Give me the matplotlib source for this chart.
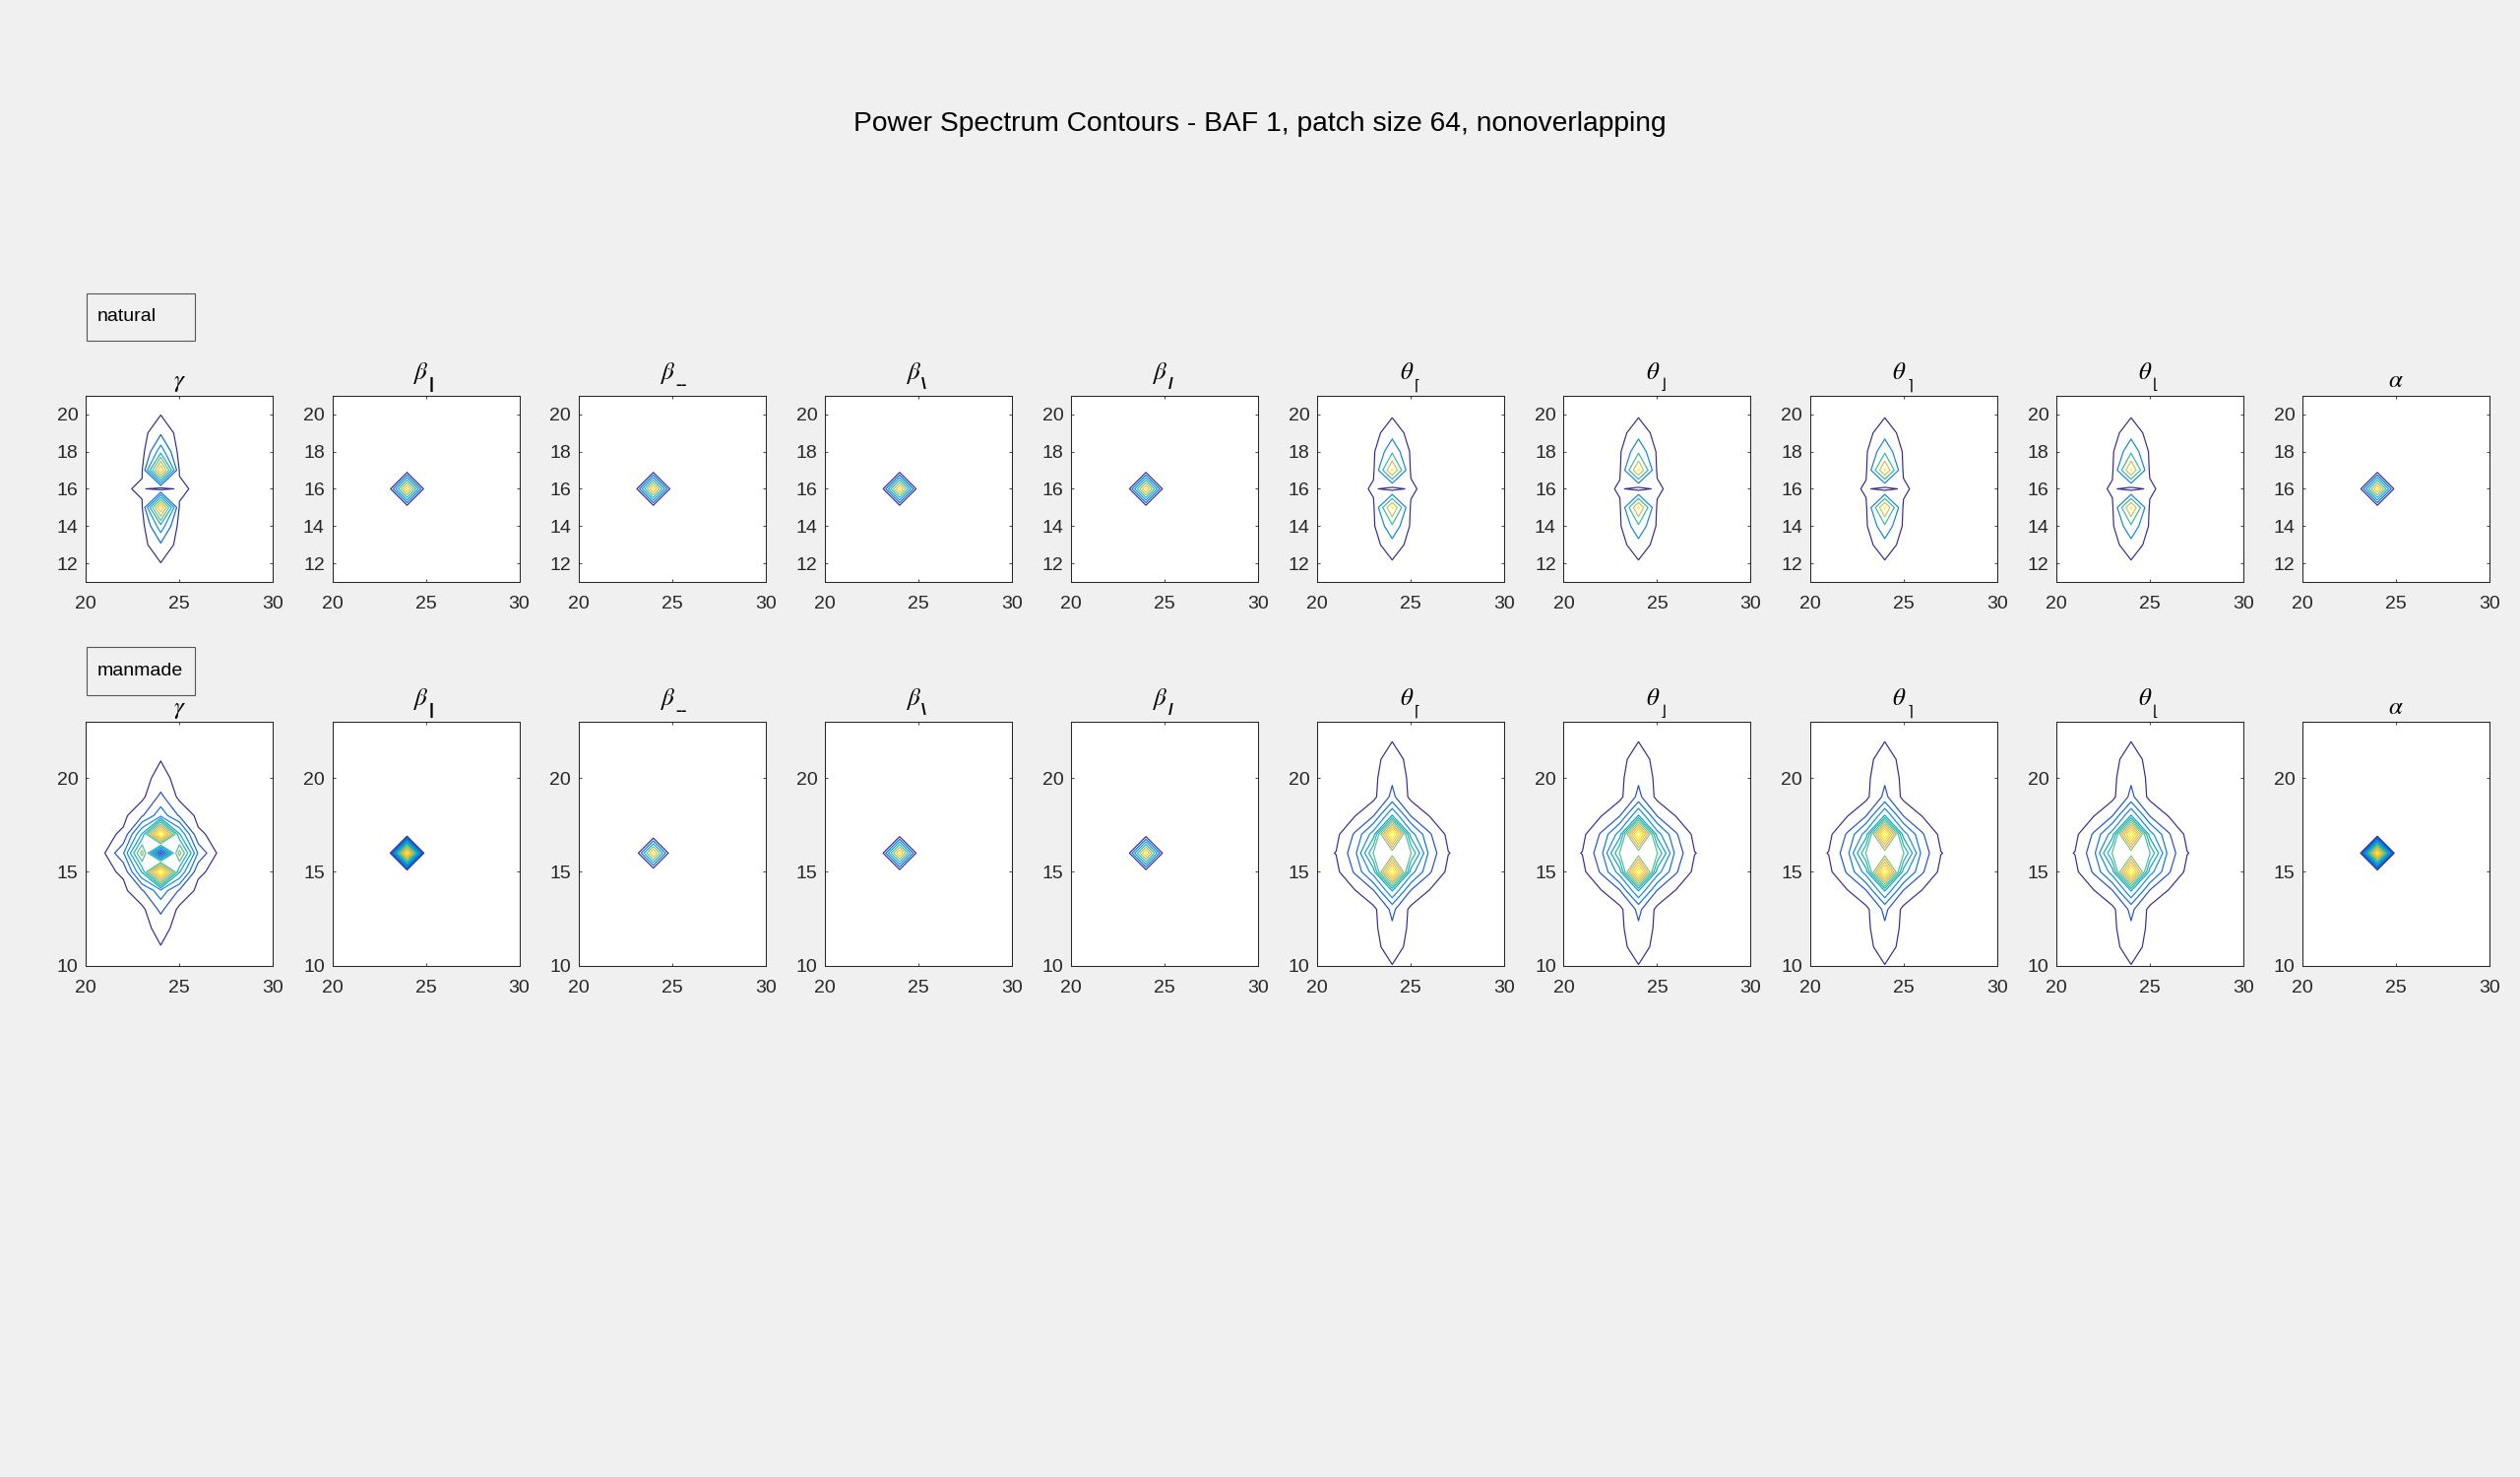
import numpy as np
import matplotlib
matplotlib.use("Agg")
import matplotlib.pyplot as plt
from matplotlib.colors import LinearSegmentedColormap
from matplotlib.patches import Rectangle

plt.rcParams["font.family"] = ["Liberation Sans", "DejaVu Sans"]
plt.rcParams["mathtext.fontset"] = "stix"

# ---------------------------------------------------------------- data
suptitle = "Power Spectrum Contours - BAF 1, patch size 64, nonoverlapping"
row_labels = ["natural", "manmade"]
title_greek = [r"$\gamma$", r"$\beta$", r"$\beta$", r"$\beta$", r"$\beta$",
               r"$\theta$", r"$\theta$", r"$\theta$", r"$\theta$", r"$\alpha$"]
title_sub = ["", "|", "--", "\\", "/", "\u2308", "\u230b", "\u2309", "\u230a", ""]

# single-peak spectra (beta / alpha panels)
x_peak = [23, 24, 25]
y_peak = [15, 16, 17]
peak_power = [
    [0.0, 0.0, 0.0],
    [0.0, 1.0, 0.0],
    [0.0, 0.0, 0.0],
]

# natural row, rows are y = 11 .. 21, columns x = 21 .. 27
x_nat = [21, 22, 23, 24, 25, 26, 27]
y_nat = [11, 12, 13, 14, 15, 16, 17, 18, 19, 20, 21]
nat_gamma_power = [
    [0.0, 0.0, 0.0, 0.0, 0.0, 0.0, 0.0],
    [0.0, 0.0, 0.0, 0.045, 0.0, 0.0, 0.0],
    [0.0, 0.0, 0.0, 0.16, 0.0, 0.0, 0.0],
    [0.0, 0.0, 0.0, 0.40, 0.0, 0.0, 0.0],
    [0.0, 0.0, 0.04, 1.0, 0.04, 0.0, 0.0],
    [0.0, 0.04, 0.0625, 0.0, 0.071, 0.029, 0.0],
    [0.0, 0.0, 0.04, 1.0, 0.04, 0.0, 0.0],
    [0.0, 0.0, 0.0, 0.40, 0.0, 0.0, 0.0],
    [0.0, 0.0, 0.0, 0.16, 0.0, 0.0, 0.0],
    [0.0, 0.0, 0.0, 0.045, 0.0, 0.0, 0.0],
    [0.0, 0.0, 0.0, 0.0, 0.0, 0.0, 0.0],
]
nat_theta_power = [
    [0.0, 0.0, 0.0, 0.0, 0.0, 0.0, 0.0],
    [0.0, 0.0, 0.0, 0.049, 0.0, 0.0, 0.0],
    [0.0, 0.0, 0.0, 0.213, 0.0, 0.0, 0.0],
    [0.0, 0.0, 0.05, 0.476, 0.05, 0.0, 0.0],
    [0.0, 0.0, 0.05, 1.0, 0.05, 0.0, 0.0],
    [0.0, 0.011, 0.107, 0.0, 0.118, 0.0, 0.0],
    [0.0, 0.0, 0.05, 1.0, 0.05, 0.0, 0.0],
    [0.0, 0.0, 0.05, 0.476, 0.05, 0.0, 0.0],
    [0.0, 0.0, 0.0, 0.213, 0.0, 0.0, 0.0],
    [0.0, 0.0, 0.0, 0.049, 0.0, 0.0, 0.0],
    [0.0, 0.0, 0.0, 0.0, 0.0, 0.0, 0.0],
]

# manmade row, rows are y = 10 .. 22, columns x = 20 .. 28
x_man = [20, 21, 22, 23, 24, 25, 26, 27, 28]
y_man = [10, 11, 12, 13, 14, 15, 16, 17, 18, 19, 20, 21, 22]
man_gamma_power = [
    [0.0, 0.0, 0.0, 0.0, 0.0, 0.0, 0.0, 0.0, 0.0],
    [0.0, 0.0, 0.0, 0.0, 0.018, 0.0, 0.0, 0.0, 0.0],
    [0.0, 0.0, 0.0, 0.0, 0.04, 0.0, 0.0, 0.0, 0.0],
    [0.0, 0.0, 0.0, 0.0, 0.12, 0.0, 0.0, 0.0, 0.0],
    [0.0, 0.0, 0.0, 0.09, 0.233, 0.09, 0.0, 0.0, 0.0],
    [0.0, 0.0, 0.033, 0.35, 1.0, 0.35, 0.033, 0.0, 0.0],
    [0.0, 0.018, 0.17, 0.62, 0.0, 0.62, 0.17, 0.018, 0.0],
    [0.0, 0.0, 0.033, 0.35, 1.0, 0.35, 0.033, 0.0, 0.0],
    [0.0, 0.0, 0.0, 0.09, 0.233, 0.09, 0.0, 0.0, 0.0],
    [0.0, 0.0, 0.0, 0.0, 0.12, 0.0, 0.0, 0.0, 0.0],
    [0.0, 0.0, 0.0, 0.0, 0.04, 0.0, 0.0, 0.0, 0.0],
    [0.0, 0.0, 0.0, 0.0, 0.018, 0.0, 0.0, 0.0, 0.0],
    [0.0, 0.0, 0.0, 0.0, 0.0, 0.0, 0.0, 0.0, 0.0],
]
man_theta_power = [
    [0.0, 0.0, 0.0, 0.0, 0.018, 0.0, 0.0, 0.0, 0.0],
    [0.0, 0.0, 0.0, 0.0, 0.05, 0.0, 0.0, 0.0, 0.0],
    [0.0, 0.0, 0.0, 0.0, 0.087, 0.0, 0.0, 0.0, 0.0],
    [0.0, 0.0, 0.0, 0.0, 0.12, 0.0, 0.0, 0.0, 0.0],
    [0.0, 0.0, 0.016, 0.095, 0.345, 0.095, 0.016, 0.0, 0.0],
    [0.0, 0.0, 0.11, 0.30, 1.0, 0.30, 0.11, 0.0, 0.0],
    [0.0, 0.022, 0.15, 0.51, 0.51, 0.51, 0.15, 0.022, 0.0],
    [0.0, 0.0, 0.11, 0.30, 1.0, 0.30, 0.11, 0.0, 0.0],
    [0.0, 0.0, 0.016, 0.095, 0.345, 0.095, 0.016, 0.0, 0.0],
    [0.0, 0.0, 0.0, 0.0, 0.12, 0.0, 0.0, 0.0, 0.0],
    [0.0, 0.0, 0.0, 0.0, 0.087, 0.0, 0.0, 0.0, 0.0],
    [0.0, 0.0, 0.0, 0.0, 0.05, 0.0, 0.0, 0.0, 0.0],
    [0.0, 0.0, 0.0, 0.0, 0.018, 0.0, 0.0, 0.0, 0.0],
]

# contour level lists
levels_nat_gamma = [0.05, 0.183, 0.317, 0.45, 0.583, 0.717, 0.85, 0.983]
levels_nat_theta = [0.08, 0.30, 0.52, 0.74, 0.96]
levels_peak = [0.12, 0.26, 0.40, 0.54, 0.68, 0.82, 0.96]
levels_peak_small = [0.20, 0.35, 0.50, 0.65, 0.80, 0.95]
levels_peak_dense = list(np.linspace(0.10, 0.97, 24))
levels_man = [0.02, 0.10, 0.18, 0.26, 0.34, 0.42, 0.50, 0.58, 0.66, 0.74, 0.82, 0.90]

nat_ticks = [12, 14, 16, 18, 20]
man_ticks = [10, 15, 20]

nat_g = (x_nat, y_nat, nat_gamma_power)
nat_t = (x_nat, y_nat, nat_theta_power)
man_g = (x_man, y_man, man_gamma_power)
man_t = (x_man, y_man, man_theta_power)
pk = (x_peak, y_peak, peak_power)

rows = [
    [(nat_g, levels_nat_gamma), (pk, levels_peak), (pk, levels_peak), (pk, levels_peak),
     (pk, levels_peak), (nat_t, levels_nat_theta), (nat_t, levels_nat_theta),
     (nat_t, levels_nat_theta), (nat_t, levels_nat_theta), (pk, levels_peak)],
    [(man_g, levels_man), (pk, levels_peak_dense), (pk, levels_peak_small), (pk, levels_peak),
     (pk, levels_peak), (man_t, levels_man), (man_t, levels_man),
     (man_t, levels_man), (man_t, levels_man), (pk, levels_peak_dense)],
]

# ---------------------------------------------------------------- style
parula = LinearSegmentedColormap.from_list("parula", [
    (0 / 63, (0.2081, 0.1663, 0.5292)), (4 / 63, (0.1959, 0.2645, 0.7279)),
    (8 / 63, (0.0117, 0.3875, 0.8820)), (12 / 63, (0.0498, 0.4586, 0.8641)),
    (16 / 63, (0.0793, 0.5200, 0.8312)), (20 / 63, (0.0343, 0.5966, 0.8199)),
    (24 / 63, (0.0228, 0.6535, 0.7768)), (28 / 63, (0.0843, 0.6928, 0.7062)),
    (32 / 63, (0.2178, 0.7250, 0.6193)), (36 / 63, (0.3953, 0.7459, 0.5244)),
    (40 / 63, (0.5709, 0.7485, 0.4494)), (44 / 63, (0.7184, 0.7411, 0.3905)),
    (48 / 63, (0.8507, 0.7299, 0.3360)), (52 / 63, (0.9739, 0.7314, 0.2666)),
    (56 / 63, (0.9955, 0.7861, 0.1967)), (60 / 63, (0.9589, 0.8949, 0.1132)),
    (63 / 63, (0.9763, 0.9831, 0.0538)),
])

W, H = 2560, 1500
BG = "#f0f0f0"
INK = "#262626"
BRACKETS = "\u2308\u2309\u230a\u230b"

fig = plt.figure(figsize=(W / 100, H / 100), dpi=100, facecolor=BG)
fig.text(0.5, 1 - 126 / H, suptitle, ha="center", va="center", fontsize=20.3, color="black")

col_left = [87.3 + 250.2 * i for i in range(10)]
ax_w = 190
row_box = [(401.7, 591.2, (11, 21), nat_ticks), (733.0, 980.7, (10, 23), man_ticks)]
legend_box = [(298, 346, 326), (657, 706, 686)]


def draw_title(ax, greek, sub):
    if not sub:
        ax.annotate(greek, xy=(0.5, 1.0), xycoords="axes fraction", xytext=(0, 6.0),
                    textcoords="offset points", ha="center", va="baseline", fontsize=18)
        return
    ax.annotate(greek, xy=(0.5, 1.0), xycoords="axes fraction", xytext=(2.0, 12.0),
                textcoords="offset points", ha="right", va="baseline", fontsize=18)
    if sub in BRACKETS:
        ax.annotate(sub, xy=(0.5, 1.0), xycoords="axes fraction", xytext=(2.4, 4.6),
                    textcoords="offset points", ha="left", va="baseline", fontsize=11,
                    family=["DejaVu Sans"])
    else:
        ax.annotate(sub, xy=(0.5, 1.0), xycoords="axes fraction", xytext=(2.4, 5.0),
                    textcoords="offset points", ha="left", va="baseline", fontsize=12.5,
                    fontweight="bold")


for r, panels in enumerate(rows):
    top, bottom, ylim, yticks = row_box[r]
    for c, ((xs, ys, z), lv) in enumerate(panels):
        ax = fig.add_axes([col_left[c] / W, 1 - bottom / H, ax_w / W, (bottom - top) / H])
        ax.set_facecolor("white")
        ax.contour(xs, ys, np.array(z), levels=lv, cmap=parula, linewidths=0.85)
        ax.set_xlim(20, 30)
        ax.set_ylim(*ylim)
        ax.set_xticks([20, 25, 30])
        ax.set_yticks(yticks)
        ax.tick_params(direction="in", top=True, right=True, length=2.5, width=0.6,
                       color=INK, labelcolor=INK, labelsize=14)
        ax.tick_params(axis="x", pad=10)
        ax.tick_params(axis="y", pad=5.5)
        for sp in ax.spines.values():
            sp.set_linewidth(0.75)
            sp.set_color(INK)
        draw_title(ax, title_greek[c], title_sub[c])

    btop, bbot, base = legend_box[r]
    fig.patches.append(Rectangle((88 / W, 1 - bbot / H), 110 / W, (bbot - btop) / H,
                                 transform=fig.transFigure, facecolor=BG,
                                 edgecolor="#555555", linewidth=0.8))
    fig.text(99 / W, 1 - base / H, row_labels[r], ha="left", va="baseline",
             fontsize=14, color="black")

fig.savefig("out.png", dpi=100, facecolor=BG)
